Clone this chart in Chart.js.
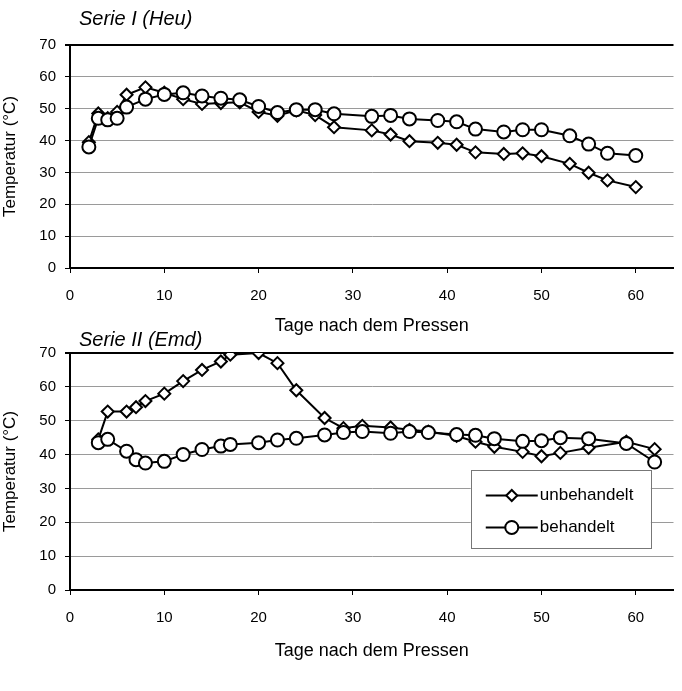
<!DOCTYPE html>
<html>
<head>
<meta charset="utf-8">
<script src="https://cdn.jsdelivr.net/npm/chart.js@4.4.1/dist/chart.umd.min.js"></script>
<style>
  html, body { margin: 0; padding: 0; background: #fff; }
  #wrap1 { position: absolute; left: 0; top: 0; width: 682px; height: 340px; }
  #wrap2 { position: absolute; left: 0; top: 330px; width: 682px; height: 361px; }
</style>
</head>
<body>
<div id="wrap1"><canvas id="c1"></canvas></div>
<div id="wrap2"><canvas id="c2"></canvas></div>
<script>
// ---- Data ----
const seriesTitles = ['Serie I (Heu)', 'Serie II (Emd)'];
const seriesNames = ['unbehandelt', 'behandelt'];
const xTitle = 'Tage nach dem Pressen';
const yTitle = 'Temperatur (°C)';
const yTicks = [0, 10, 20, 30, 40, 50, 60, 70];
const xTicks = [0, 10, 20, 30, 40, 50, 60];

// Serie I (Heu)
const days1 = [2, 3, 4, 5, 6, 8, 10, 12, 14, 16, 18, 20, 22, 24, 26, 28, 32, 34, 36, 39, 41, 43, 46, 48, 50, 53, 55, 57, 60];
const unbehandelt1 = [39.5, 48.5, 47, 49, 54.4, 56.7, 55, 53, 51.5, 51.8, 52, 49, 47.8, 49.5, 48, 44.2, 43.2, 41.9, 39.8, 39.3, 38.7, 36.3, 35.8, 36, 35.1, 32.7, 29.9, 27.5, 25.4];
const behandelt1 = [38, 47, 46.5, 47, 50.5, 53, 54.5, 55, 54, 53.3, 52.8, 50.7, 48.8, 49.7, 49.7, 48.4, 47.6, 47.9, 46.8, 46.3, 45.9, 43.6, 42.7, 43.4, 43.4, 41.5, 38.9, 36, 35.3];

// Serie II (Emd)
const days2 = [3, 4, 6, 7, 8, 10, 12, 14, 16, 17, 20, 22, 24, 27, 29, 31, 34, 36, 38, 41, 43, 45, 48, 50, 52, 55, 59, 62];
const unbehandelt2 = [44.5, 52.7, 52.7, 54, 55.8, 58, 61.7, 65, 67.5, 69.5, 70, 67, 59, 50.8, 47.8, 48.5, 48, 47.3, 46.8, 45.5, 43.8, 42.3, 40.8, 39.5, 40.5, 42, 43.8, 41.6];
const behandelt2 = [43.5, 44.5, 41, 38.5, 37.5, 38, 40, 41.5, 42.5, 43, 43.5, 44.3, 44.8, 45.8, 46.5, 46.8, 46.3, 46.8, 46.5, 45.9, 45.7, 44.7, 43.9, 44.1, 45, 44.7, 43.3, 37.8];

// ---- Helpers ----
const FONT = '"Liberation Sans", Arial, sans-serif';
function pts(xs, ys) { return xs.map((x, i) => ({ x: x, y: ys[i] })); }

function makeDatasets(days, u, b) {
  return [
    { label: seriesNames[0], data: pts(days, u), borderColor: '#000', borderWidth: 2,
      pointStyle: 'rectRot', pointRadius: 6, pointBackgroundColor: '#fff',
      pointBorderColor: '#000', pointBorderWidth: 2, order: 2, tension: 0 },
    { label: seriesNames[1], data: pts(days, b), borderColor: '#000', borderWidth: 2,
      pointStyle: 'circle', pointRadius: 6.5, pointBackgroundColor: '#fff',
      pointBorderColor: '#000', pointBorderWidth: 2, order: 1, tension: 0 }
  ];
}

const titlePlugin = {
  id: 'seriesTitle',
  afterDraw(chart, args, opts) {
    const ctx = chart.ctx;
    ctx.save();
    ctx.font = 'italic 20px ' + FONT;
    ctx.fillStyle = '#000';
    ctx.textBaseline = 'middle';
    ctx.textAlign = 'left';
    ctx.fillText(opts.text, chart.chartArea.left + opts.dx, opts.y);
    ctx.restore();
  }
};

const legendPlugin = {
  id: 'boxLegend',
  afterDraw(chart, args, opts) {
    if (!opts.show) return;
    const ctx = chart.ctx;
    const xs = chart.scales.x, ys = chart.scales.y;
    const l = xs.getPixelForValue(opts.x0), r = xs.getPixelForValue(opts.x1);
    const t = ys.getPixelForValue(opts.y0), btm = ys.getPixelForValue(opts.y1);
    ctx.save();
    ctx.fillStyle = '#fff';
    ctx.fillRect(l, t, r - l, btm - t);
    ctx.strokeStyle = '#777';
    ctx.lineWidth = 1;
    ctx.strokeRect(Math.round(l) + 0.5, Math.round(t) + 0.5, Math.round(r - l), Math.round(btm - t));
    const rows = [t + (btm - t) * 0.33, t + (btm - t) * 0.74];
    const styles = ['rectRot', 'circle'];
    rows.forEach((yy, i) => {
      ctx.strokeStyle = '#000';
      ctx.lineWidth = 2;
      ctx.beginPath();
      ctx.moveTo(l + 15, yy);
      ctx.lineTo(l + 67, yy);
      ctx.stroke();
      ctx.fillStyle = '#fff';
      Chart.helpers.drawPoint(ctx, { pointStyle: styles[i], radius: i === 0 ? 5.5 : 6.5, borderWidth: 2 }, l + 41, yy);
      ctx.fillStyle = '#000';
      ctx.font = '17px ' + FONT;
      ctx.textAlign = 'left';
      ctx.textBaseline = 'middle';
      ctx.fillText(seriesNames[i], l + 69, yy);
    });
    ctx.restore();
  }
};

function makeOptions(cfg) {
  return {
    responsive: true,
    maintainAspectRatio: false,
    animation: false,
    layout: { padding: { top: cfg.padTop, right: 4, left: 0, bottom: 0 } },
    plugins: {
      legend: { display: false },
      tooltip: { enabled: false },
      seriesTitle: { text: cfg.title, dx: 9, y: cfg.titleY },
      boxLegend: cfg.legend
    },
    scales: {
      x: {
        type: 'linear', min: 0, max: 64,
        afterFit(scale) { scale.height = cfg.xHeight; },
        ticks: { stepSize: 10, includeBounds: false, color: '#000', font: { family: FONT, size: 15 }, padding: 14, maxRotation: 0 },
        grid: { drawOnChartArea: false, drawTicks: true, tickLength: 5, tickColor: '#000' },
        border: { display: true, color: '#000', width: 2 },
        title: { display: true, text: xTitle, color: '#000', font: { family: FONT, size: 18 }, padding: { top: 0, bottom: cfg.xTitlePad } },
        afterBuildTicks(scale) { scale.ticks = xTicks.map(v => ({ value: v })); }
      },
      y: {
        min: 0, max: 70,
        afterFit(scale) { scale.width = 70; },
        afterBuildTicks(scale) { scale.ticks = yTicks.map(v => ({ value: v })); },
        ticks: { color: '#000', font: { family: FONT, size: 15 }, padding: 9 },
        grid: {
          color: (c) => (c.tick && c.tick.value === 70) ? '#000' : '#9a9a9a',
          lineWidth: (c) => (c.tick && c.tick.value === 70) ? 2 : 1,
          tickLength: 5, tickColor: '#000', drawTicks: true
        },
        border: { display: true, color: '#000', width: 2 },
        title: { display: true, text: yTitle, color: '#000', font: { family: FONT, size: 17 }, padding: { top: 0, bottom: 4 } }
      }
    }
  };
}

new Chart(document.getElementById('c1'), {
  type: 'line',
  data: { datasets: makeDatasets(days1, unbehandelt1, behandelt1) },
  options: makeOptions({ padTop: 45, title: seriesTitles[0], titleY: 19, xHeight: 72, xTitlePad: 3, legend: { show: false } }),
  plugins: [titlePlugin, legendPlugin]
});

new Chart(document.getElementById('c2'), {
  type: 'line',
  data: { datasets: makeDatasets(days2, unbehandelt2, behandelt2) },
  options: makeOptions({ padTop: 23, title: seriesTitles[1], titleY: 10, xHeight: 101, xTitlePad: 29,
    legend: { show: true, x0: 42.5, x1: 61.6, y0: 35.5, y1: 12.5 } }),
  plugins: [titlePlugin, legendPlugin]
});
</script>
</body>
</html>
